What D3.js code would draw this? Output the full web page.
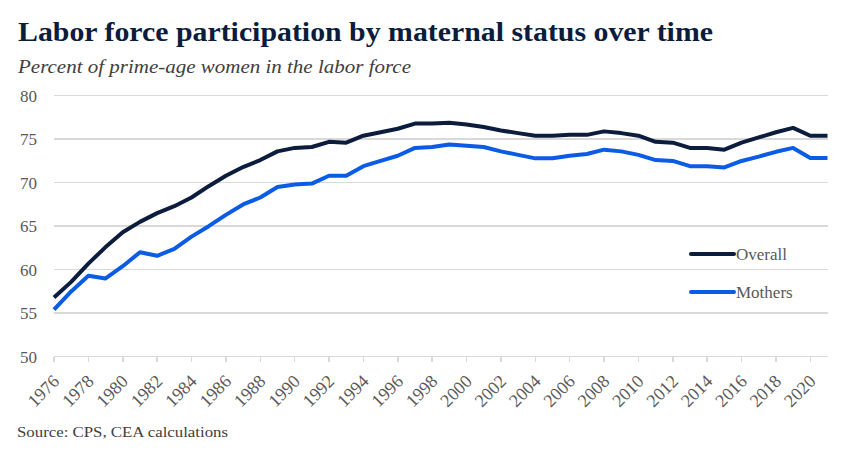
<!DOCTYPE html>
<meta charset='utf-8'>
<style>
    body { margin: 0; background: #fff; }
    .grid line { stroke: #d9d9d9; stroke-width: 1.5; shape-rendering: crispEdges; }
    .tick-lab { fill: #595959; font-size: 16px; }
</style>
<body>
<script src='https://cdn.jsdelivr.net/npm/d3@7'></script>
<script>
    const years = d3.range( 1976, 2022 );
    const overall = [
        56.8, 58.6, 60.7, 62.6, 64.3, 65.5, 66.5, 67.3, 68.3, 69.6,
        70.8, 71.8, 72.6, 73.6, 74.0, 74.1, 74.7, 74.6, 75.4, 75.8,
        76.2, 76.8, 76.8, 76.9, 76.7, 76.4, 76.0, 75.7, 75.4, 75.4,
        75.5, 75.5, 75.9, 75.7, 75.4, 74.7, 74.6, 74.0, 74.0, 73.8,
        74.6, 75.2, 75.8, 76.3, 75.4, 75.4
    ];
    const mothers = [
        55.4, 57.5, 59.3, 59.0, 60.4, 62.0, 61.6, 62.4, 63.8, 65.0,
        66.3, 67.5, 68.3, 69.5, 69.8, 69.9, 70.8, 70.8, 71.9, 72.5,
        73.1, 74.0, 74.1, 74.4, 74.25, 74.1, 73.6, 73.2, 72.8, 72.8,
        73.1, 73.3, 73.8, 73.6, 73.2, 72.6, 72.5, 71.9, 71.9, 71.75,
        72.5, 73.0, 73.55, 74.0, 72.85, 72.85
    ];
    const yTicks = [ 50, 55, 60, 65, 70, 75, 80 ];
    const xTickYears = d3.range( 1976, 2021, 2 );
    const seriesNames = [ 'Overall', 'Mothers' ];
    const colors = { 'Overall': '#0b1c3d', 'Mothers': '#0a5ce4' };

    const W = 855, H = 453;
    const plot = { left: 54, right: 827.5, top: 95.7, bottom: 356.7 };
    const serif = '"Liberation Serif", "Times New Roman", Tinos, "DejaVu Serif", serif';

    const svg = d3.select( 'body' ).append( 'svg' )
        .attr( 'width', W ).attr( 'height', H )
        .style( 'font-family', serif );

    const x = d3.scaleLinear().domain( [ 1976, 2021 ] ).range( [ plot.left, plot.right ] );
    const y = d3.scaleLinear().domain( [ 50, 80 ] ).range( [ plot.bottom, plot.top ] );

    // Titles (stretched to the reference's width)
    svg.append( 'text' )
        .attr( 'x', 18 ).attr( 'y', 41 )
        .attr( 'textLength', 695 ).attr( 'lengthAdjust', 'spacingAndGlyphs' )
        .style( 'font-size', '28px' ).style( 'font-weight', 'bold' )
        .style( 'fill', '#0b1c3d' )
        .text( 'Labor force participation by maternal status over time' );
    svg.append( 'text' )
        .attr( 'x', 18 ).attr( 'y', 73 )
        .attr( 'textLength', 393 ).attr( 'lengthAdjust', 'spacingAndGlyphs' )
        .style( 'font-size', '19px' ).style( 'font-style', 'italic' )
        .style( 'fill', '#404040' )
        .text( 'Percent of prime-age women in the labor force' );
    svg.append( 'text' )
        .attr( 'x', 17 ).attr( 'y', 437 )
        .attr( 'textLength', 211 ).attr( 'lengthAdjust', 'spacingAndGlyphs' )
        .style( 'font-size', '15px' )
        .style( 'fill', '#404040' )
        .text( 'Source: CPS, CEA calculations' );

    // Grid
    const grid = svg.append( 'g' ).attr( 'class', 'grid' );
    grid.selectAll( 'line' )
        .data( yTicks )
        .enter().append( 'line' )
            .attr( 'x1', plot.left ).attr( 'x2', plot.right )
            .attr( 'y1', d => y( d ) ).attr( 'y2', d => y( d ) );
    grid.selectAll( '.xt' )
        .data( xTickYears )
        .enter().append( 'line' )
            .attr( 'class', 'xt' )
            .attr( 'x1', d => x( d ) ).attr( 'x2', d => x( d ) )
            .attr( 'y1', plot.bottom ).attr( 'y2', plot.bottom + 5 );

    svg.selectAll( '.ylab' )
        .data( yTicks )
        .enter().append( 'text' )
            .attr( 'class', 'tick-lab' )
            .style( 'font-size', '17px' )
            .attr( 'x', 37 ).attr( 'y', d => y( d ) )
            .attr( 'dy', '0.35em' )
            .style( 'text-anchor', 'end' )
            .text( d => d );

    svg.selectAll( '.xlab' )
        .data( xTickYears )
        .enter().append( 'text' )
            .attr( 'class', 'tick-lab' )
            .style( 'font-size', '18px' )
            .attr( 'transform', d => `translate( ${x( d ) + 2}, 378 ) rotate( -45 )` )
            .style( 'text-anchor', 'end' )
            .attr( 'dy', '0.35em' )
            .text( d => d );

    // Lines
    const series = { 'Overall': overall, 'Mothers': mothers };
    const line = d3.line()
        .x( ( d, i ) => x( years[ i ] ) )
        .y( d => y( d ) );

    svg.selectAll( '.series' )
        .data( seriesNames )
        .enter().append( 'path' )
            .attr( 'fill', 'none' )
            .attr( 'stroke', d => colors[ d ] )
            .attr( 'stroke-width', 4 )
            .attr( 'stroke-linejoin', 'round' )
            .attr( 'd', d => line( series[ d ] ) );

    // Legend
    const legend = svg.selectAll( '.legend' )
        .data( seriesNames )
        .enter().append( 'g' )
            .attr( 'transform', ( d, i ) => `translate( 691, ${254 + i * 38} )` );
    legend.append( 'line' )
        .attr( 'x1', 0 ).attr( 'x2', 43 )
        .attr( 'stroke', d => colors[ d ] )
        .attr( 'stroke-width', 4 )
        .attr( 'stroke-linecap', 'round' );
    legend.append( 'text' )
        .attr( 'x', 45 ).attr( 'dy', '0.35em' )
        .style( 'font-size', '17px' ).style( 'fill', '#595959' )
        .text( d => d );
</script>
</body>
